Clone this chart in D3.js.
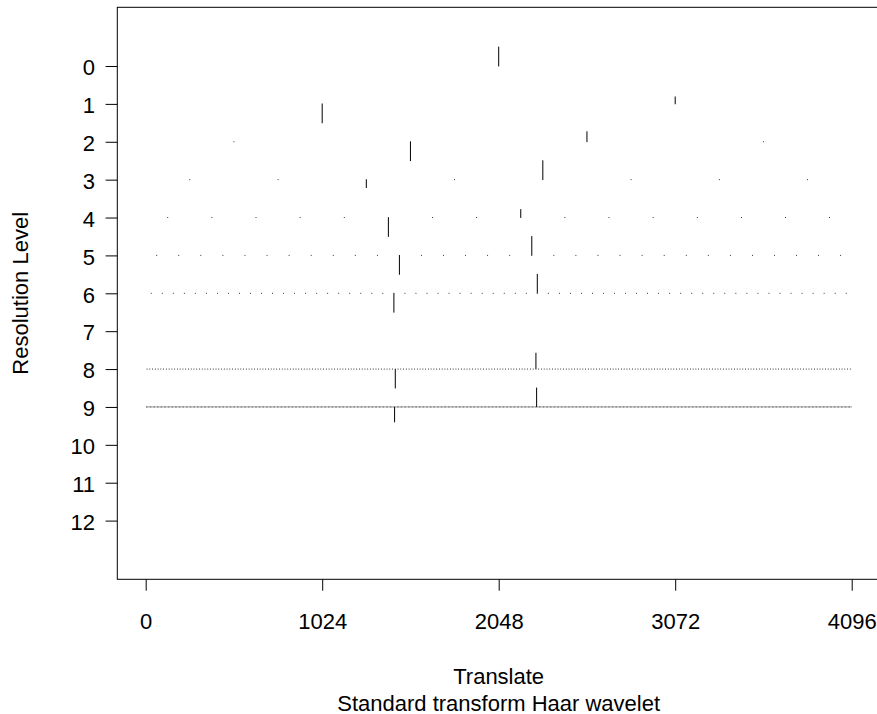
<!DOCTYPE html>
<html>
<head>
<meta charset="utf-8">
<script src="https://cdn.jsdelivr.net/npm/d3@7"></script>
<style>
  body { margin: 0; background: #fff; }
  svg { display: block; font-family: "Liberation Sans", Arial, sans-serif; }
</style>
</head>
<body>
<svg id="chart" width="877" height="714"></svg>
<script>

// tick labels
var levelTicks = d3.range(0, 13);               // Resolution Level 0..12
var translateTicks = [0, 1024, 2048, 3072, 4096];

// levels where coefficients are drawn (7 and 10..12 show nothing)
var drawnLevels = [0, 1, 2, 3, 4, 5, 6, 8, 9];

// non-zero coefficients: level, index within level, value scaled by level max
var stickLevel = [0, 1, 1, 2, 2, 3, 3, 4, 4, 5, 5, 6, 6, 8, 8, 9, 9];
var stickIndex = [0, 0, 1, 1, 2, 2, 4, 5, 8, 11, 17, 22, 35, 90, 141, 180, 283];
var stickValue = [1.0, -1.0, 0.37, -1.0, 0.53, -0.42, 1.0, -1.0, 0.42,
                  -1.0, 1.0, -1.0, 1.0, -1.0, 0.84, -0.79, 1.0];

var svg = d3.select("#chart");

var box = { left: 117.3, top: 7.3, right: 880, bottom: 579.3 };

var x = d3.scaleLinear().domain([0, 4096]).range([145.7, 851.7]);
var y = d3.scaleLinear().domain([0, 12]).range([66, 520.6]);

var half = (y(1) - y(0)) / 2;

// build every coefficient of the drawn levels
var coefs = [];
drawnLevels.forEach(function(j) {
  var n = Math.pow(2, j),
      width = 4096 / n;
  for (var k = 0; k < n; k++) {
    coefs.push({ level: j, pos: (k + 0.5) * width, value: 0 });
  }
});

stickLevel.forEach(function(j, i) {
  var c = coefs.find(function(d) {
    return d.level == j && d.pos == (stickIndex[i] + 0.5) * 4096 / Math.pow(2, j);
  });
  c.value = stickValue[i];
});

// coefficients: zero values show as round dots
svg.append("g").attr("class", "coefs")
   .selectAll("line")
   .data(coefs)
   .enter().append("line")
   .attr("x1", function(d) { return x(d.pos); })
   .attr("x2", function(d) { return x(d.pos); })
   .attr("y1", function(d) { return y(d.level); })
   .attr("y2", function(d) { return y(d.level) - d.value * half; })
   .attr("stroke", "#000")
   .attr("stroke-width", 1)
   .attr("stroke-linecap", "round");

// frame
svg.append("rect")
   .attr("x", box.left).attr("y", box.top)
   .attr("width", box.right - box.left)
   .attr("height", box.bottom - box.top)
   .attr("fill", "none")
   .attr("stroke", "#000")
   .attr("stroke-width", 1);

// axes
var yAxis = svg.append("g")
   .attr("transform", "translate(" + box.left + ",0)")
   .call(d3.axisLeft(y).tickValues(levelTicks).tickSize(11.7).tickPadding(10.6));

var xAxis = svg.append("g")
   .attr("transform", "translate(0," + box.bottom + ")")
   .call(d3.axisBottom(x).tickValues(translateTicks).tickFormat(d3.format("d"))
           .tickSize(11.4).tickPadding(22.7));

[yAxis, xAxis].forEach(function(a) {
  a.select(".domain").remove();
  a.selectAll("line").attr("stroke", "#000");
  a.selectAll("text").attr("fill", "#000")
   .style("font-size", "22px")
   .style("font-family", "Liberation Sans, Arial, sans-serif");
});
yAxis.selectAll("text").attr("dy", "0.4em");

// axis titles
var midX = (box.left + box.right) / 2,
    midY = (box.top + box.bottom) / 2;

svg.append("text")
   .attr("x", midX).attr("y", 684)
   .attr("text-anchor", "middle")
   .style("font-size", "22px")
   .text("Translate");

svg.append("text")
   .attr("x", midX).attr("y", 711)
   .attr("text-anchor", "middle")
   .style("font-size", "22px")
   .text("Standard transform Haar wavelet");

svg.append("text")
   .attr("transform", "translate(28," + midY + ") rotate(-90)")
   .attr("text-anchor", "middle")
   .style("font-size", "22px")
   .text("Resolution Level");

</script>
</body>
</html>
